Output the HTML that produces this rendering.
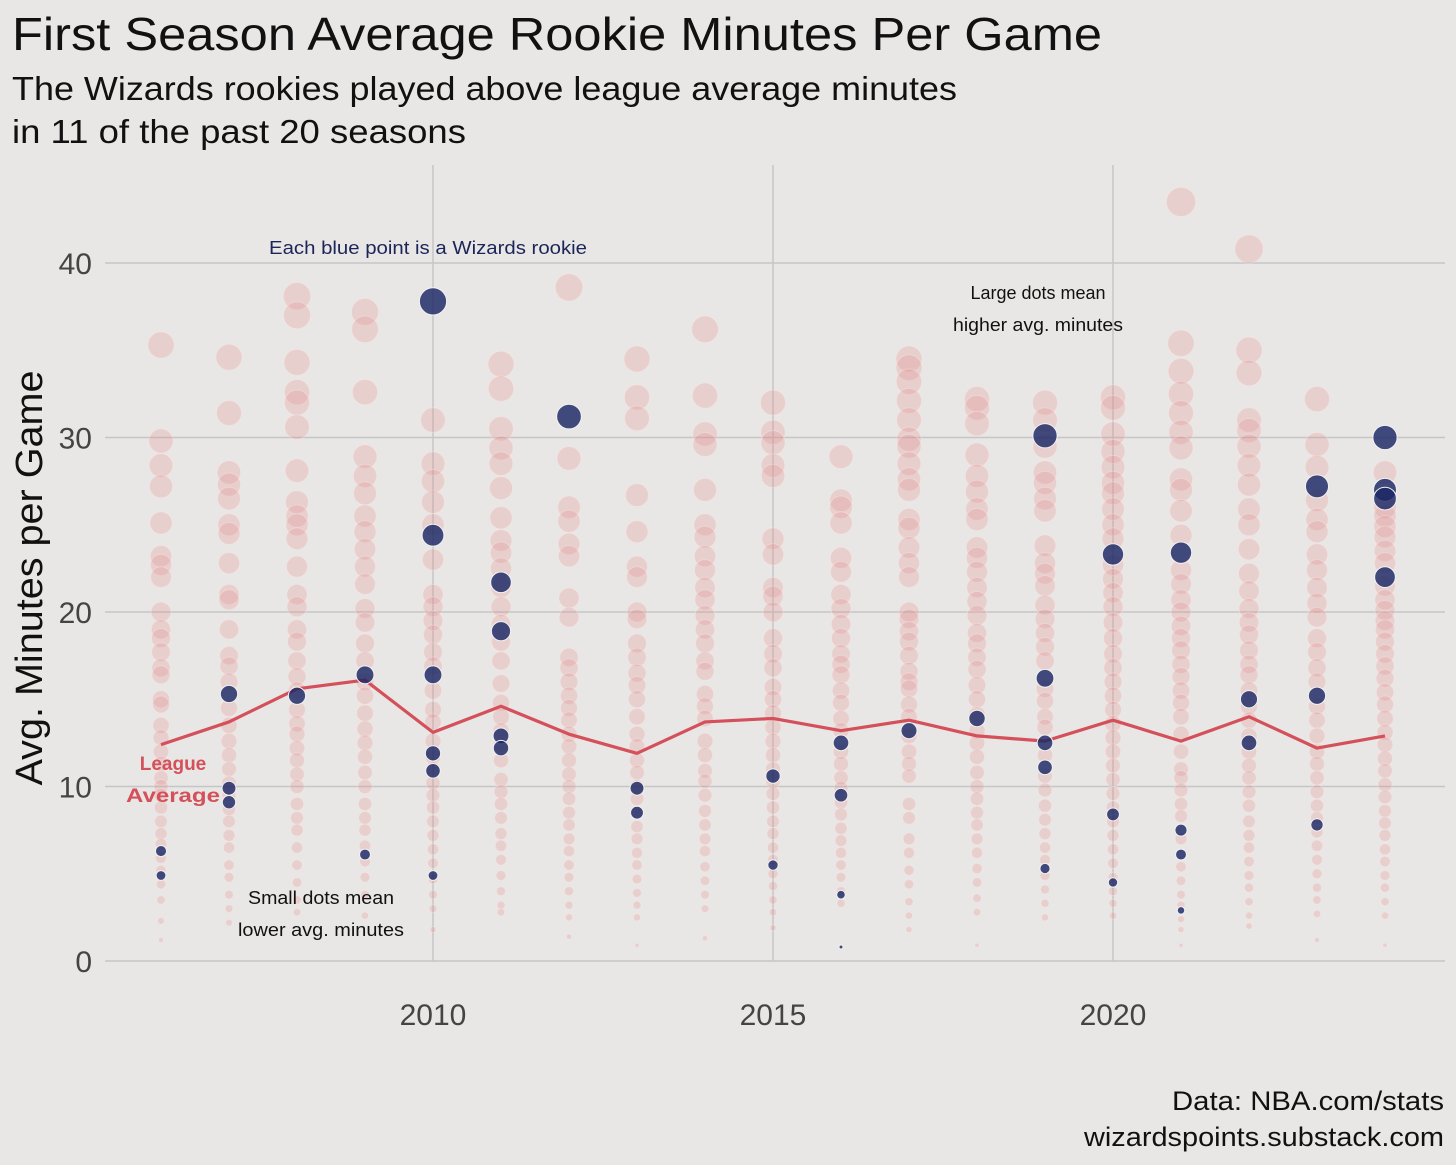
<!DOCTYPE html>
<html><head><meta charset="utf-8">
<style>
html,body{margin:0;padding:0;background:#e8e7e5;}
svg{display:block;font-family:"Liberation Sans",sans-serif;}
</style></head>
<body>
<svg id="chart" width="1456" height="1165" viewBox="0 0 1456 1165">
<rect width="1456" height="1165" fill="#e8e7e5"/>
<text x="12" y="50" font-size="46" fill="#111" textLength="1090" lengthAdjust="spacingAndGlyphs">First Season Average Rookie Minutes Per Game</text>
<text x="12" y="100" font-size="33" fill="#111" textLength="945" lengthAdjust="spacingAndGlyphs">The Wizards rookies played above league average minutes</text>
<text x="12" y="143" font-size="33" fill="#111" textLength="454" lengthAdjust="spacingAndGlyphs">in 11 of the past 20 seasons</text>
<g id="grid"></g>
<g id="pink"></g>
<g id="avg"></g>
<g id="wiz"></g>
<g id="axes"></g>
<text transform="translate(42,578) rotate(-90)" text-anchor="middle" font-size="38" fill="#111" textLength="415" lengthAdjust="spacingAndGlyphs">Avg. Minutes per Game</text>
<text x="428" y="254" text-anchor="middle" font-size="18" fill="#1b2557" textLength="318" lengthAdjust="spacingAndGlyphs">Each blue point is a Wizards rookie</text>
<text x="1038" y="299" text-anchor="middle" font-size="18" fill="#111">Large dots mean</text>
<text x="1038" y="331" text-anchor="middle" font-size="18" fill="#111" textLength="170" lengthAdjust="spacingAndGlyphs">higher avg. minutes</text>
<text x="321" y="904" text-anchor="middle" font-size="18" fill="#111" textLength="146" lengthAdjust="spacingAndGlyphs">Small dots mean</text>
<text x="321" y="936" text-anchor="middle" font-size="18" fill="#111" textLength="166" lengthAdjust="spacingAndGlyphs">lower avg. minutes</text>
<text x="173" y="770" text-anchor="middle" font-size="19" font-weight="bold" fill="#d4505a">League</text>
<text x="173" y="802" text-anchor="middle" font-size="19" font-weight="bold" fill="#d4505a" textLength="94" lengthAdjust="spacingAndGlyphs">Average</text>
<text x="1444" y="1110" text-anchor="end" font-size="27" fill="#111" textLength="272" lengthAdjust="spacingAndGlyphs">Data: NBA.com/stats</text>
<text x="1444" y="1146" text-anchor="end" font-size="27" fill="#111" textLength="360" lengthAdjust="spacingAndGlyphs">wizardspoints.substack.com</text>
</svg>
<script>
const seasons=[2006,2007,2008,2009,2010,2011,2012,2013,2014,2015,2016,2017,2018,2019,2020,2021,2022,2023,2024];
const leagueAvg=[12.4,13.7,15.6,16.1,13.1,14.6,13.0,11.9,13.7,13.9,13.2,13.8,12.9,12.6,13.8,12.6,14.0,12.2,12.9];
const leagueRookies=[
[35.3,29.8,28.4,27.2,25.1,23.2,22.7,22.0,20.0,19.0,18.5,17.7,16.8,16.4,15.0,14.7,13.5,12.8,12.0,11.3,10.5,10.0,9.5,8.8,8.0,7.3,6.7,5.9,5.2,4.4,3.5,2.3,1.2],
[34.6,31.4,28.0,27.3,26.5,25.0,24.5,22.8,21.0,20.7,19.0,17.5,16.9,16.0,14.5,13.5,12.6,11.8,11.0,10.2,9.5,8.7,8.0,7.2,6.5,5.5,4.8,3.8,3.0,2.2],
[38.1,37.0,34.3,32.6,32.0,30.6,28.1,26.3,25.5,25.0,24.2,22.6,21.0,20.3,19.0,18.3,17.2,16.3,15.5,14.4,13.6,13.0,12.2,11.5,10.7,10.0,9.0,8.2,7.5,6.5,5.5,4.5,3.5,2.8],
[37.2,36.2,32.6,28.9,27.8,26.8,25.5,24.6,23.6,22.6,21.6,20.2,19.4,18.2,17.2,16.0,15.2,14.2,13.3,12.5,11.7,10.8,10.0,9.0,8.2,7.5,6.6,5.7,4.8,3.8,2.6],
[31.0,28.5,27.5,26.3,25.0,23.0,21.0,20.3,19.5,18.7,17.7,16.9,15.5,14.4,13.7,12.6,11.7,11.0,10.2,9.5,8.8,8.0,7.2,6.4,5.6,4.7,3.8,3.0,1.8],
[34.2,32.8,30.5,29.4,28.5,27.1,25.4,24.1,23.4,22.5,21.4,20.3,19.3,18.3,17.2,15.9,14.8,14.0,13.2,12.4,11.5,10.4,9.7,9.0,8.2,7.3,6.6,5.8,4.9,4.0,3.2,2.8],
[38.6,28.8,26.0,25.2,23.9,23.2,20.8,19.7,17.4,16.8,16.0,15.2,14.5,13.8,13.0,12.3,11.5,10.7,10.0,9.3,8.5,7.8,7.0,6.3,5.5,4.8,4.0,3.2,2.5,1.4],
[34.5,32.3,31.1,26.7,24.6,22.6,22.0,20.0,19.6,18.2,17.4,16.5,15.8,15.0,14.0,13.0,12.3,11.5,10.8,10.0,9.3,8.5,7.7,7.0,6.2,5.5,4.7,3.9,3.2,2.5,0.9],
[36.2,32.4,30.2,29.6,27.0,25.0,24.3,23.2,22.4,21.4,20.7,19.8,19.0,18.2,17.2,16.6,15.3,14.6,13.9,12.6,11.8,10.9,10.3,9.5,8.6,7.8,7.0,6.3,5.4,4.6,3.8,3.0,1.3],
[32.0,30.3,29.7,28.4,27.8,24.2,23.3,21.4,20.9,20.0,18.5,17.6,16.8,15.7,15.0,14.2,13.4,12.6,11.8,11.0,10.3,9.6,8.8,8.0,7.3,6.5,5.8,5.0,4.3,3.5,2.8,1.9],
[28.9,26.4,26.0,25.1,23.1,22.3,21.0,20.2,19.3,18.5,17.6,17.0,16.4,15.5,14.8,13.9,13.2,12.0,11.3,10.5,9.9,9.1,8.4,7.6,6.9,6.2,5.5,4.8,4.0,3.3],
[34.5,34.0,33.2,32.1,31.0,29.9,29.5,28.5,27.6,27.0,25.3,24.8,23.7,22.8,22.0,20.0,19.6,18.9,18.3,17.5,16.6,16.0,15.6,14.7,14.0,12.9,12.0,11.3,10.6,9.0,8.2,7.0,6.2,5.2,4.4,3.4,2.6,1.8],
[32.2,31.7,30.8,29.0,27.8,26.9,25.9,25.3,23.7,23.1,22.3,21.4,20.6,19.8,18.8,18.2,17.4,16.7,15.8,15.0,14.1,13.2,12.5,11.7,10.8,10.0,9.3,8.5,7.8,7.0,6.2,5.3,4.5,3.6,2.8,0.9],
[32.0,31.0,29.5,28.0,27.4,26.5,25.8,23.8,22.8,22.2,21.5,20.4,19.6,18.8,18.0,17.2,15.6,14.9,14.0,13.4,11.8,10.6,9.8,8.9,8.1,7.3,6.5,5.8,4.9,4.1,3.3,2.5],
[32.3,31.7,30.2,29.2,28.3,27.4,26.8,25.9,25.0,24.2,22.7,21.9,21.1,20.3,19.4,18.5,17.6,16.8,16.0,15.2,14.4,13.6,12.8,12.0,11.2,10.4,9.6,8.8,8.0,7.2,6.4,5.6,4.8,4.0,3.3,2.6],
[43.5,35.4,33.8,32.5,31.4,30.3,29.4,27.6,27.0,25.8,24.4,22.4,21.6,20.7,20.0,19.2,18.5,17.8,17.0,16.3,15.5,14.8,14.0,13.0,12.0,11.0,10.5,9.8,9.0,8.3,7.0,5.4,4.6,3.8,3.2,2.4,1.8,0.9],
[40.8,35.0,33.7,31.0,30.4,29.5,28.4,27.3,25.9,25.0,23.6,22.2,21.2,20.2,19.4,18.7,17.8,17.0,16.4,15.5,14.6,13.8,12.9,12.0,11.2,10.5,9.7,8.9,8.0,7.2,6.5,5.7,4.9,4.2,3.4,2.6,2.0],
[32.2,29.6,28.3,26.4,25.3,24.6,23.3,22.4,21.4,20.5,19.7,18.5,17.7,16.8,16.0,14.6,13.8,12.9,12.0,11.3,10.5,9.7,8.9,8.2,7.4,6.6,5.8,5.0,4.2,3.5,2.7,1.2],
[28.0,26.0,25.5,24.9,24.3,23.5,22.8,21.5,20.7,20.1,19.5,19.0,18.3,17.6,16.9,16.2,15.4,14.7,13.9,13.1,12.4,11.6,10.9,10.1,9.4,8.6,7.9,7.2,6.4,5.7,4.9,4.2,3.4,2.6,0.9]
];
const wizardsSeason=[2006,2006,2007,2007,2007,2008,2009,2009,2010,2010,2010,2010,2010,2010,2011,2011,2011,2011,2012,2013,2013,2015,2015,2016,2016,2016,2016,2017,2018,2019,2019,2019,2019,2019,2020,2020,2020,2021,2021,2021,2021,2022,2022,2023,2023,2023,2024,2024,2024,2024];
const wizardsMinutes=[6.3,4.9,15.3,9.9,9.1,15.2,16.4,6.1,37.8,24.4,16.4,11.9,10.9,4.9,21.7,18.9,12.9,12.2,31.2,9.9,8.5,10.6,5.5,12.5,9.5,3.8,0.8,13.2,13.9,30.1,16.2,12.5,11.1,5.3,23.3,8.4,4.5,23.4,7.5,6.1,2.9,15.0,12.5,27.2,15.2,7.8,30.0,27.0,26.5,22.0];
const yTicks=[0,10,20,30,40];
const xTicks=[2010,2015,2020];

const NS="http://www.w3.org/2000/svg";
const X=yr=>433+(yr-2010)*68;
const Y=v=>961-v*17.45;
const R=v=>14.5*Math.sqrt(Math.max(v,0.3)/43);
function mk(tag,attrs,parent){const e=document.createElementNS(NS,tag);for(const k in attrs)e.setAttribute(k,attrs[k]);parent.appendChild(e);return e;}

const grid=document.getElementById('grid');
yTicks.forEach(t=>{
  const l=mk('line',{x1:105,x2:1445,y1:Y(t),y2:Y(t),stroke:'#c6c6c6','stroke-width':1.5},grid);
  
  
});
xTicks.forEach(t=>{
  const l=mk('line',{x1:X(t),x2:X(t),y1:165,y2:961,stroke:'#c6c6c6','stroke-width':1.5},grid);
  
  
});
const axes=document.getElementById('axes');
yTicks.forEach(t=>{
  const tx=mk('text',{x:92,y:Y(t)+11,'text-anchor':'end','font-size':30,fill:'#444'},axes);
  tx.textContent=t;
  
  
});
xTicks.forEach(t=>{
  const tx=mk('text',{x:X(t),y:1025,'text-anchor':'middle','font-size':30,fill:'#444'},axes);
  tx.textContent=t;
  
  
});

const pink=document.getElementById('pink');
seasons.forEach((s,i)=>{
  leagueRookies[i].forEach(v=>{
    const c=mk('circle',{cx:X(s),cy:Y(v),r:R(v),fill:'rgba(226,140,140,0.26)',stroke:'rgba(255,230,230,0.4)','stroke-width':1},pink);
    
    
  });
});

const avg=document.getElementById('avg');
const pts=seasons.map((s,i)=>X(s)+','+Y(leagueAvg[i])).join(' ');
const pl=mk('polyline',{points:pts,fill:'none',stroke:'#d4505a','stroke-width':3.2,'stroke-linejoin':'round'},avg);



const wiz=document.getElementById('wiz');
wizardsSeason.forEach((s,i)=>{
  const v=wizardsMinutes[i];
  const c=mk('circle',{cx:X(s),cy:Y(v),r:R(v),fill:'rgba(27,38,100,0.82)',stroke:'#f2f2f2','stroke-width':1},wiz);
  
  
});
</script>
</body></html>
